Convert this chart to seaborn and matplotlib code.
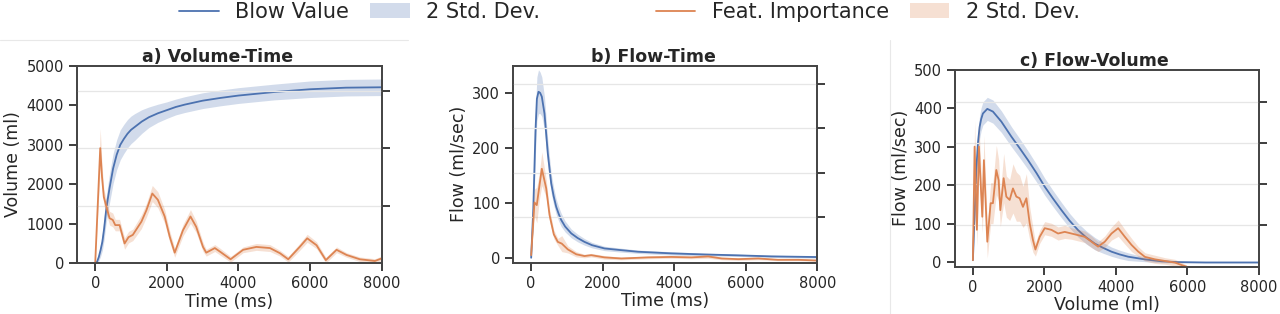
"""Spirometry curves: blow value vs feature importance"""
import seaborn as sns
import matplotlib.pyplot as plt
from matplotlib.lines import Line2D
from matplotlib.patches import Patch
import numpy as np

sns.set_theme(style='ticks')
plt.rcParams['font.family'] = ['DejaVu Sans']
plt.rcParams['xtick.labelsize'] = 10.5
plt.rcParams['ytick.labelsize'] = 10.5
plt.rcParams['axes.labelsize'] = 12.5

BLUE, ORANGE = sns.color_palette('deep')[0], sns.color_palette('deep')[1]
GRID = '#e6e6e6'

# ---- a) Volume-Time -------------------------------------------------------
a_time_blue = [0, 50, 100, 150, 200, 250, 300, 350, 400, 500, 600, 700, 800, 900,
               1000, 1100, 1200, 1300, 1500, 1750, 2000, 2250, 2500, 3000, 3500,
               4000, 5000, 6000, 7000, 8000]
a_vol_blue = [0, 30, 150, 330, 540, 880, 1300, 1620, 1900, 2400, 2750, 3000, 3150, 3280,
              3380, 3450, 3520, 3590, 3700, 3800, 3880, 3960, 4020, 4120, 4190,
              4250, 4340, 4410, 4450, 4460]
a_std_blue = [0, 20, 50, 80, 110, 140, 160, 175, 185, 190, 190, 190, 185, 180,
              175, 170, 160, 150, 130, 115, 105, 100, 100, 100, 100,
              100, 100, 105, 105, 105]
a_time_imp = [0, 70, 140, 190, 240, 325, 400, 490, 560, 680, 820, 930, 1050, 1290,
              1430, 1594, 1750, 1940, 2080, 2220, 2450, 2660, 2820, 3010, 3100, 3340,
              3480, 3780, 4130, 4500, 4880, 5160, 5390, 5710, 5920, 6180, 6440, 6740,
              7020, 7390, 7810, 8000]
a_imp = [0, 1.0, 2.0, 1.5, 1.15, 0.95, 0.78, 0.75, 0.66, 0.66, 0.34, 0.45, 0.49, 0.72,
         0.92, 1.21, 1.10, 0.81, 0.46, 0.18, 0.57, 0.81, 0.63, 0.28, 0.18, 0.26,
         0.20, 0.065, 0.23, 0.28, 0.26, 0.17, 0.065, 0.28, 0.43, 0.31, 0.05, 0.23,
         0.14, 0.065, 0.035, 0.08]
a_imp_std = [0, 0.08, 0.17, 0.1, 0.07, 0.06, 0.06, 0.06, 0.05, 0.05, 0.05, 0.05, 0.05, 0.06,
             0.06, 0.07, 0.07, 0.06, 0.05, 0.04, 0.05, 0.06, 0.05, 0.04, 0.03, 0.03,
             0.03, 0.025, 0.025, 0.03, 0.03, 0.025, 0.025, 0.03, 0.035, 0.03, 0.025, 0.025,
             0.02, 0.02, 0.02, 0.02]

# ---- b) Flow-Time ---------------------------------------------------------
b_time_blue = [0, 60, 120, 160, 205, 250, 298, 373, 466, 560, 630, 700, 770, 840, 950,
               1120, 1300, 1490, 1700, 2050, 2500, 2985, 3920, 4850, 5790, 6720, 8000]
b_flow_blue = [0, 90, 230, 290, 303, 301, 294, 263, 190, 136, 112, 93, 80, 69, 57,
               44.5, 36, 29, 23, 17, 14, 11, 8, 6, 4.4, 2.5, 1.3]
b_std_blue = [0, 15, 20, 20, 20, 19, 18, 15, 12, 9, 8, 7, 6.5, 6, 5,
              4, 3.5, 3, 2.5, 2, 1.8, 1.5, 1.5, 1.2, 1, 1, 1]
b_time_imp = [0, 92, 157, 230, 298, 420, 513, 633, 745, 857, 1025, 1260, 1490, 1680,
              2050, 2520, 3270, 3920, 4480, 4950, 5330, 5790, 6350, 6900, 7470, 8000]
b_imp = [0.14, 1.33, 1.27, 1.7, 2.09, 1.65, 1.05, 0.61, 0.44, 0.40, 0.27, 0.16, 0.12, 0.14,
         0.09, 0.065, 0.09, 0.10, 0.09, 0.11, 0.065, 0.05, 0.065, 0.035, 0.035, 0.02]
b_imp_std = [0, 0.15, 0.2, 0.15, 0.19, 0.1, 0.07, 0.05, 0.04, 0.09, 0.04, 0.03, 0.02, 0.02,
             0.02, 0.015, 0.015, 0.015, 0.015, 0.02, 0.015, 0.015, 0.015, 0.01, 0.01, 0.01]

# ---- c) Flow-Volume -------------------------------------------------------
c_vol_blue = [0, 95, 140, 188, 230, 280, 403, 560, 795, 1075, 1300, 1540, 1780, 2008,
              2240, 2476, 2700, 2941, 3170, 3409, 3640, 3876, 4100, 4342, 4810, 5280,
              5746, 6500, 8000]
c_flow_blue = [6, 240, 310, 352, 372, 387, 399, 392, 366, 327, 298, 266, 232, 197,
               166, 136, 109, 84, 65, 49, 38, 28, 21, 15, 8, 3,
               1, 0, 0]
c_std_blue = [2, 12, 14, 15, 15, 15, 15, 15, 14, 13, 12.5, 12, 11.5, 11,
              10.5, 10, 9.5, 9, 8.5, 8, 7, 6, 5.5, 5, 3, 2,
              1, 0.5, 0.5]
c_vol_imp = [0, 48, 112, 168, 263, 308, 403, 496, 560, 655, 720, 767, 860, 935, 1028,
             1120, 1215, 1308, 1400, 1496, 1588, 1680, 1748, 1868, 2008, 2195, 2381,
             2568, 2756, 2941, 3128, 3316, 3500, 3688, 3876, 4062, 4249, 4437, 4622,
             4810, 5090, 5370, 5650, 5837, 5978]
c_imp = [0.15, 2.92, 0.89, 2.92, 1.21, 2.59, 0.60, 1.54, 1.54, 2.35, 2.10, 1.37, 2.15, 1.70,
         1.62, 1.90, 1.70, 1.66, 1.45, 1.66, 1.05, 0.64, 0.41, 0.72, 0.93, 0.89, 0.80,
         0.84, 0.80, 0.76, 0.72, 0.60, 0.48, 0.60, 0.80, 0.93, 0.72, 0.52, 0.36,
         0.23, 0.17, 0.13, 0.09, 0.03, -0.01]
c_imp_std = [0, 0.32, 0.2, 0.3, 0.2, 0.3, 0.2, 0.25, 0.25, 0.3, 0.25, 0.2, 0.3, 0.25, 0.25,
             0.3, 0.3, 0.28, 0.25, 0.3, 0.2, 0.15, 0.08, 0.08, 0.08, 0.08, 0.08,
             0.08, 0.07, 0.07, 0.07, 0.07, 0.06, 0.07, 0.08, 0.1, 0.09, 0.08, 0.06,
             0.05, 0.05, 0.04, 0.04, 0.03, 0.02]

panels = [
    dict(rect=[0.0604, 0.1624, 0.2378, 0.6274], title='a) Volume-Time',
         xlabel='Time (ms)', ylabel='Volume (ml)', ylim=(0, 5000),
         yticks=[0, 1000, 2000, 3000, 4000, 5000],
         blue=(a_time_blue, a_vol_blue, a_std_blue),
         imp=(a_time_imp, a_imp, a_imp_std), ylim2=(0, 3.43), yticks2=[1, 2, 3]),
    dict(rect=[0.4010, 0.1634, 0.2375, 0.6264], title='b) Flow-Time',
         xlabel='Time (ms)', ylabel='Flow (ml/sec)', ylim=(-9, 350),
         yticks=[0, 100, 200, 300],
         blue=(b_time_blue, b_flow_blue, b_std_blue),
         imp=(b_time_imp, b_imp, b_imp_std), ylim2=(-0.03, 4.41), yticks2=[1, 2, 3, 4]),
    dict(rect=[0.7461, 0.1506, 0.2375, 0.6265], title='c) Flow-Volume',
         xlabel='Volume (ml)', ylabel='Flow (ml/sec)', ylim=(-11, 500),
         yticks=[0, 100, 200, 300, 400, 500],
         blue=(c_vol_blue, c_flow_blue, c_std_blue),
         imp=(c_vol_imp, c_imp, c_imp_std), ylim2=(-0.01, 4.79), yticks2=[1, 2, 3, 4]),
]

fig = plt.figure(figsize=(12.8, 3.14), dpi=100)

for p in panels:
    ax = fig.add_axes(p['rect'])
    x, y, sd = (np.asarray(v, dtype=float) for v in p['blue'])
    ax.fill_between(x, y - 2 * sd, y + 2 * sd, color=BLUE, alpha=0.25, lw=0)
    sns.lineplot(x=x, y=y, ax=ax, color=BLUE, lw=1.3)
    ax.set_xlim(-500, 8000)
    ax.set_ylim(*p['ylim'])
    ax.set_xticks([0, 2000, 4000, 6000, 8000])
    ax.set_yticks(p['yticks'])
    ax.set_xlabel(p['xlabel'], labelpad=1)
    ax.set_ylabel(p['ylabel'], labelpad=3)
    ax.set_title(p['title'], fontsize=12.5, fontweight='bold', pad=3, x=0.46)

    ax2 = ax.twinx()
    xi, yi, si = (np.asarray(v, dtype=float) for v in p['imp'])
    ax2.fill_between(xi, yi - 2 * si, yi + 2 * si, color=ORANGE, alpha=0.25, lw=0)
    sns.lineplot(x=xi, y=yi, ax=ax2, color=ORANGE, lw=1.3)
    ax2.set_ylim(*p['ylim2'])
    ax2.set_yticks(p['yticks2'])
    ax2.set_yticklabels([])
    ax2.set_ylabel('')
    ax2.set_axisbelow(True)
    ax2.grid(axis='y', color=GRID, lw=0.9)
    for a in (ax, ax2):
        for sp in a.spines.values():
            sp.set_color('#444444')

# legends across the top
h1 = [Line2D([], [], color=BLUE, lw=1.3), Patch(facecolor=BLUE, alpha=0.25, lw=0)]
h2 = [Line2D([], [], color=ORANGE, lw=1.3), Patch(facecolor=ORANGE, alpha=0.25, lw=0)]
kw = dict(ncol=2, frameon=False, fontsize=15, loc='center', handlelength=1.9,
          handletextpad=0.8, columnspacing=1.0)
fig.legend(h1, ['Blow Value', '2 Std. Dev.'], bbox_to_anchor=(0.281, 0.962), **kw)
fig.legend(h2, ['Feat. Importance', '2 Std. Dev.'], bbox_to_anchor=(0.678, 0.962), **kw)

# faint separators left over from the source layout
fig.add_artist(Line2D([0, 408 / 1280], [1 - 40 / 314] * 2, color='#e8e8e8', lw=0.8))
fig.add_artist(Line2D([890 / 1280] * 2, [0, 1 - 40 / 314], color='#e8e8e8', lw=0.8))

fig.savefig('out.png', dpi=100)
